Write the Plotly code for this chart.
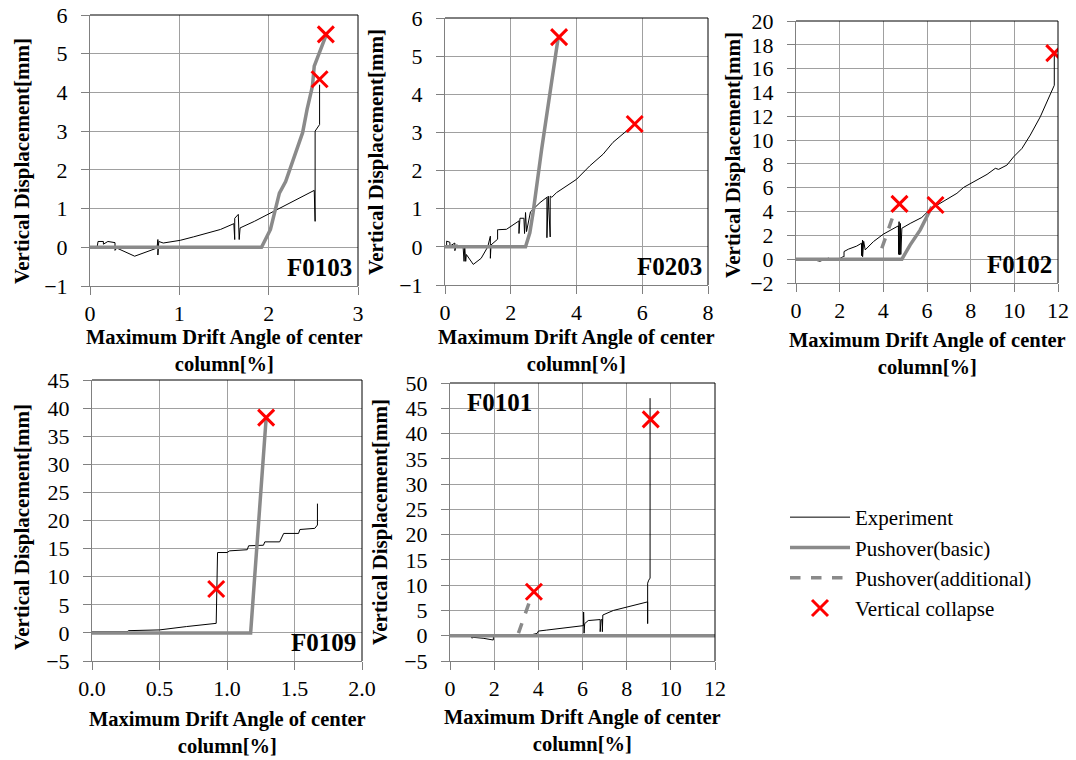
import plotly.graph_objects as go

W, H = 1076, 760

# ---------------- data ----------------
# F0103
f0103_exp_x = [0, 0.08, 0.09, 0.15, 0.15, 0.2, 0.28, 0.28, 0.3, 0.5, 0.75, 0.76, 0.76, 0.77, 0.82, 1.01, 1.16, 1.31, 1.46, 1.61, 1.62, 1.62, 1.66, 1.67, 1.68, 1.84, 1.98, 2.17, 2.28, 2.38, 2.51, 2.52, 2.52, 2.57, 2.57]
f0103_exp_y = [0, 0, 0.15, 0.15, 0.08, 0.15, 0.12, -0.08, -0.02, -0.23, -0.02, 0.2, -0.2, 0.15, 0.11, 0.18, 0.27, 0.37, 0.46, 0.61, 0.2, 0.75, 0.85, 0.2, 0.5, 0.67, 0.84, 1.06, 1.19, 1.32, 1.47, 0.67, 3.0, 3.17, 4.2]
f0103_push_x = [0, 1.92, 2.02, 2.12, 2.19, 2.28, 2.38, 2.43, 2.49, 2.51, 2.58, 2.64]
f0103_push_y = [0, 0, 0.46, 1.4, 1.7, 2.27, 2.96, 3.56, 4.16, 4.68, 5.11, 5.46]
f0103_col_x = [2.64, 2.57]
f0103_col_y = [5.5, 4.34]

# F0203
f0203_exp_x = [0, 0.05, 0.05, 0.15, 0.15, 0.3, 0.3, 0.35, 0.45, 0.55, 0.58, 0.6, 0.63, 0.65, 0.86, 1.1, 1.3, 1.38, 1.38, 1.4, 1.6, 1.6, 1.62, 1.87, 2.25, 2.25, 2.28, 2.4, 2.42, 2.45, 2.48, 2.6, 2.89, 3.1, 3.1, 3.14, 3.2, 3.2, 3.25, 3.39, 3.7, 4.0, 4.4, 4.81, 5.11, 5.42, 5.67, 5.77]
f0203_exp_y = [0, 0, 0.15, 0.12, 0.02, 0.1, -0.1, 0.05, 0.02, 0.0, -0.38, 0.0, -0.38, -0.2, -0.46, -0.3, 0.0, 0.28, -0.3, 0.05, 0.2, 0.45, 0.45, 0.46, 0.68, 0.35, 0.75, 0.75, 0.35, 0.9, 0.4, 0.92, 1.16, 1.3, 0.24, 1.33, 0.26, 1.33, 1.3, 1.42, 1.6, 1.77, 2.12, 2.43, 2.74, 2.96, 3.13, 3.22]
f0203_push_x = [0, 2.45, 2.58, 2.68, 2.94, 3.19, 3.44]
f0203_push_y = [0, 0, 0.37, 0.9, 2.56, 4.05, 5.47]
f0203_col_x = [3.47, 5.77]
f0203_col_y = [5.5, 3.22]

# F0102
f0102_exp_x = [0, 0.5, 1.1, 1.5, 1.55, 2.0, 2.17, 2.2, 2.2, 2.4, 2.78, 3.0, 3.0, 3.05, 3.05, 3.1, 3.17, 3.55, 4.0, 4.39, 4.69, 4.7, 4.72, 4.75, 4.78, 4.8, 4.85, 5.23, 5.76, 6.15, 6.76, 7.37, 7.68, 8.29, 8.75, 9.13, 9.28, 9.66, 9.97, 10.35, 10.73, 11.19, 11.5, 11.83, 11.83]
f0102_exp_y = [0, 0.05, -0.17, 0.1, 0.0, 0.05, 0.22, 0.2, 0.64, 0.84, 1.1, 1.34, 0.3, 1.6, 0.2, 1.5, 0.78, 1.48, 2.1, 2.5, 2.8, 0.4, 3.15, 0.36, 3.0, 0.4, 2.6, 3.0, 3.5, 4.2, 4.83, 5.53, 6.03, 6.65, 7.12, 7.63, 7.54, 7.9, 8.6, 9.3, 10.42, 11.96, 13.2, 14.6, 17.3]
f0102_push_x = [0, 4.85, 5.23, 5.69, 6.07, 6.22]
f0102_push_y = [0, 0, 1.2, 2.46, 3.85, 4.4]
f0102_add_x = [3.93, 4.31, 4.46]
f0102_add_y = [0.92, 3.0, 3.7]
f0102_col_x = [11.83, 4.74, 6.39]
f0102_col_y = [17.3, 4.64, 4.55]

# F0109
f0109_exp_x = [0, 0.26, 0.27, 0.5, 0.7, 0.92, 0.93, 1.0, 1.02, 1.15, 1.16, 1.27, 1.28, 1.39, 1.42, 1.53, 1.54, 1.65, 1.67, 1.67]
f0109_exp_y = [0.2, 0.2, 0.4, 0.53, 1.13, 1.7, 14.3, 14.3, 14.6, 14.8, 15.5, 15.6, 16.2, 16.2, 17.7, 17.7, 18.4, 18.6, 19.2, 23.0]
f0109_push_x = [0, 1.175, 1.29]
f0109_push_y = [0, 0, 38.2]
f0109_col_x = [0.92, 1.29]
f0109_col_y = [7.8, 38.3]

# F0101
f0101_exp_x = [0, 0.5, 0.95, 1.0, 1.0, 1.5, 1.96, 1.97, 2.5, 3.0, 3.5, 3.95, 4.0, 4.38, 5.28, 5.9, 6.05, 6.05, 6.07, 6.1, 6.26, 6.8, 6.8, 6.85, 6.9, 6.9, 6.92, 7.4, 8.0, 8.45, 8.95, 8.95, 8.95, 9.0, 9.06, 9.06]
f0101_exp_y = [0, 0.1, 0, -0.5, -0.3, -0.5, -0.85, 0, 0, 0, 0, 0.46, 0.92, 1.12, 1.65, 1.9, 2.0, 4.7, 0.5, 2.4, 3.0, 3.2, 0.8, 3.2, 3.2, 0.8, 4.1, 5.0, 5.7, 6.2, 6.7, 2.4, 10.4, 11.0, 11.4, 47.0]
f0101_push_x = [0, 12]
f0101_push_y = [0, 0]
f0101_add_x = [3.1, 3.7]
f0101_add_y = [0.5, 8.0]
f0101_col_x = [3.8, 9.09]
f0101_col_y = [8.7, 42.8]

panels = [
    dict(name="F0103", exp=(f0103_exp_x, f0103_exp_y), push=(f0103_push_x, f0103_push_y), add=None,
         col=(f0103_col_x, f0103_col_y), xr=[0, 3], dx=1, yr=[-1, 6], dy=1, fmt="",
         box=(90, 358, 15, 286), ytc=161, xtc=324, ytx=22, lab="br"),
    dict(name="F0203", exp=(f0203_exp_x, f0203_exp_y), push=(f0203_push_x, f0203_push_y), add=None,
         col=(f0203_col_x, f0203_col_y), xr=[0, 8], dx=2, yr=[-1, 6], dy=1, fmt="",
         box=(445, 708, 18, 285), ytc=152, xtc=324, ytx=376, lab="br"),
    dict(name="F0102", exp=(f0102_exp_x, f0102_exp_y), push=(f0102_push_x, f0102_push_y), add=(f0102_add_x, f0102_add_y),
         col=(f0102_col_x, f0102_col_y), xr=[0, 12], dx=2, yr=[-2, 20], dy=2, fmt="",
         box=(796, 1058, 21, 283), ytc=155, xtc=327, ytx=733, lab="br"),
    dict(name="F0109", exp=(f0109_exp_x, f0109_exp_y), push=(f0109_push_x, f0109_push_y), add=None,
         col=(f0109_col_x, f0109_col_y), xr=[0, 2], dx=0.5, yr=[-5, 45], dy=5, fmt=".1f",
         box=(92, 362, 380, 661), ytc=527, xtc=706, ytx=22, lab="br"),
    dict(name="F0101", exp=(f0101_exp_x, f0101_exp_y), push=(f0101_push_x, f0101_push_y), add=(f0101_add_x, f0101_add_y),
         col=(f0101_col_x, f0101_col_y), xr=[0, 12], dx=2, yr=[-5, 50], dy=5, fmt="",
         box=(450, 715, 383, 661), ytc=522, xtc=704, ytx=380, lab="tl"),
]

FONT = "'Liberation Serif', 'Times New Roman', 'DejaVu Serif', serif"
GRID = "#a0a0a0"
PUSH = "#8a8a8a"

fig = go.Figure()
layout = dict(width=W, height=H, margin=dict(l=0, r=0, t=0, b=0, autoexpand=False),
              paper_bgcolor="white", plot_bgcolor="white",
              font=dict(family=FONT, color="black", size=20),
              showlegend=True)
annotations = []
shapes = []
shown = set()

for i, p in enumerate(panels):
    n = "" if i == 0 else str(i + 1)
    xa, ya = "x" + n, "y" + n
    x0, x1, y0, y1 = p["box"]
    layout["xaxis" + n] = dict(domain=[x0 / W, x1 / W], anchor=ya, range=p["xr"], dtick=p["dx"], tick0=0,
                               tickformat=p["fmt"], showgrid=True, gridcolor=GRID, gridwidth=1,
                               showline=True, linecolor="#808080", linewidth=1, ticks="outside", ticklen=8,
                               tickcolor="#808080", zeroline=False, ticklabelstandoff=0, automargin=False,
                               tickfont=dict(size=22, family=FONT))
    layout["yaxis" + n] = dict(domain=[1 - y1 / H, 1 - y0 / H], anchor=xa, range=p["yr"], dtick=p["dy"], tick0=0,
                               showgrid=True, gridcolor=GRID, gridwidth=1,
                               showline=True, linecolor="#808080", linewidth=1, ticks="outside", ticklen=8,
                               tickcolor="#808080", zeroline=False, ticklabelstandoff=9, automargin=False,
                               tickfont=dict(size=22, family=FONT))
    # top/right black frame
    shapes.append(dict(type="line", xref="paper", yref="paper", x0=x0 / W, x1=x1 / W, y0=1 - y0 / H, y1=1 - y0 / H,
                       line=dict(color="black", width=1)))
    shapes.append(dict(type="line", xref="paper", yref="paper", x0=x1 / W, x1=x1 / W, y0=1 - y0 / H, y1=1 - y1 / H,
                       line=dict(color="black", width=1)))

    ex, ey = p["exp"]
    fig.add_trace(go.Scatter(x=ex, y=ey, mode="lines", line=dict(color="black", width=1),
                             name="Experiment", legendgroup="exp", legendrank=1,
                             showlegend="exp" not in shown, xaxis=xa, yaxis=ya))
    shown.add("exp")
    px_, py_ = p["push"]
    fig.add_trace(go.Scatter(x=px_, y=py_, mode="lines", line=dict(color=PUSH, width=3.5),
                             name="Pushover(basic)", legendgroup="push", legendrank=2,
                             showlegend="push" not in shown, xaxis=xa, yaxis=ya))
    shown.add("push")
    if p["add"] is not None:
        ax_, ay_ = p["add"]
        fig.add_trace(go.Scatter(x=ax_, y=ay_, mode="lines", line=dict(color=PUSH, width=3.5, dash="dash"),
                                 name="Pushover(additional)", legendgroup="add", legendrank=3,
                                 showlegend="add" not in shown, xaxis=xa, yaxis=ya))
        shown.add("add")
    cx, cy = p["col"]
    fig.add_trace(go.Scatter(x=cx, y=cy, mode="markers",
                             marker=dict(symbol="x-thin", size=16, line=dict(color="red", width=3)),
                             name="Vertical collapse", legendgroup="col", legendrank=4,
                             showlegend="col" not in shown, xaxis=xa, yaxis=ya))
    shown.add("col")

    # panel label
    if p["lab"] == "br":
        annotations.append(dict(text="<b>" + p["name"] + "</b>", xref=xa + " domain", yref=ya + " domain",
                                x=0.985, y=0.01, xanchor="right", yanchor="bottom", showarrow=False,
                                font=dict(size=25, family=FONT)))
    else:
        annotations.append(dict(text="<b>" + p["name"] + "</b>", xref=xa + " domain", yref=ya + " domain",
                                x=0.055, y=0.985, xanchor="left", yanchor="top", showarrow=False,
                                font=dict(size=25, family=FONT)))
    # axis titles
    annotations.append(dict(text="<b>Vertical Displacement[mm]</b>", xref="paper", yref="paper",
                            x=p["ytx"] / W, y=1 - p["ytc"] / H, xanchor="center", yanchor="middle",
                            textangle=-90, showarrow=False, font=dict(size=21, family=FONT)))
    annotations.append(dict(text="<b>Maximum Drift Angle of center<br>column[%]</b>", xref="paper", yref="paper",
                            x=(x0 + x1) / 2 / W, y=1 - p["xtc"] / H, xanchor="center", yanchor="top",
                            showarrow=False, font=dict(size=20.5, family=FONT)))

layout["annotations"] = annotations
layout["shapes"] = shapes
layout["legend"] = dict(x=785 / W, y=1 - 497 / H, xanchor="left", yanchor="top",
                        font=dict(size=21, family=FONT), bgcolor="rgba(0,0,0,0)",
                        tracegroupgap=0, itemwidth=60, traceorder="normal")
fig.update_layout(**layout)
fig.write_html("out.html")
